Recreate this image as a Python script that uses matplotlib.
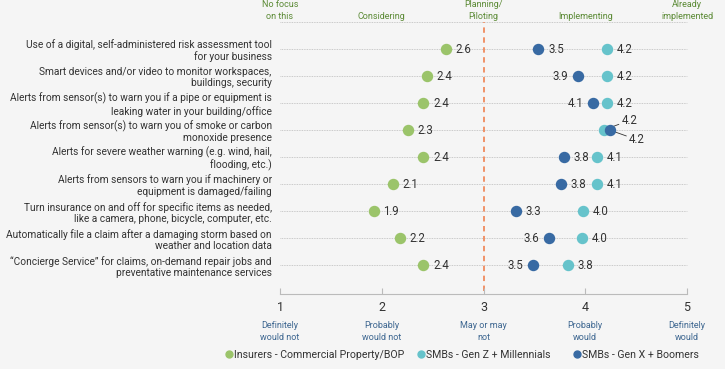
import matplotlib.pyplot as plt

plt.rcParams['font.family'] = ['Roboto', 'DejaVu Sans']

items = [
    "Use of a digital, self-administered risk assessment tool\nfor your business",
    "Smart devices and/or video to monitor workspaces,\nbuildings, security",
    "Alerts from sensor(s) to warn you if a pipe or equipment is\nleaking water in your building/office",
    "Alerts from sensor(s) to warn you of smoke or carbon\nmonoxide presence",
    "Alerts for severe weather warning (e.g. wind, hail,\nflooding, etc.)",
    "Alerts from sensors to warn you if machinery or\nequipment is damaged/failing",
    "Turn insurance on and off for specific items as needed,\nlike a camera, phone, bicycle, computer, etc.",
    "Automatically file a claim after a damaging storm based on\nweather and location data",
    "\u201cConcierge Service\u201d for claims, on-demand repair jobs and\npreventative maintenance services",
]
insurers = [2.63, 2.44, 2.41, 2.26, 2.41, 2.11, 1.92, 2.18, 2.41]
genz = [4.21, 4.21, 4.21, 4.18, 4.12, 4.12, 3.98, 3.97, 3.83]
genx = [3.54, 3.93, 4.08, 4.24, 3.79, 3.76, 3.32, 3.64, 3.49]
# which side the Gen X label goes: 1 right, -1 left, 0 leader
genx_side = [1, -1, -1, 0, 1, 1, 1, -1, -1]

scale = [1, 2, 3, 4, 5]
bottom_labels = ["Definitely\nwould not", "Probably\nwould not", "May or may\nnot",
                 "Probably\nwould", "Definitely\nwould"]
top_labels = ["No focus\non this", "Considering", "Planning/\nPiloting",
              "Implementing", "Already\nimplemented"]

green = '#9bc46a'
light = '#66c3cb'
dark = '#386aa3'
bg = '#f5f5f5'
txt = '#333333'

fig = plt.figure(figsize=(7.25, 3.69), dpi=100, facecolor=bg)
ax = fig.add_axes([280 / 725, 1 - 294 / 369, 407 / 725, 272 / 369], facecolor=bg)
rows = list(range(len(items)))

ax.set_xlim(1, 5)
ax.set_ylim(9.07, -1)
ax.set_yticks(rows)
ax.set_yticklabels(items, fontsize=7.3, color=txt, linespacing=1.15)
ax.tick_params(axis='y', length=0, pad=6)
ax.set_xticks(scale)
ax.set_xticklabels([str(s) for s in scale], fontsize=9, color=txt)
ax.tick_params(axis='x', direction='in', length=4, color='#bbbbbb', pad=5)
for s in ['top', 'left', 'right']:
    ax.spines[s].set_visible(False)
ax.spines['bottom'].set_color('#bbbbbb')

for r in [-1] + rows:
    ax.plot([1, 5], [r, r], color='#bbbbbb', lw=0.6, ls=(0, (1, 1)), zorder=1, clip_on=False)
ax.axvline(3, color='#f08a5d', lw=1.3, ls=(0, (3, 2.5)), ymin=0.01, ymax=1, zorder=1)

ax.scatter(insurers, rows, s=52, color=green, zorder=3, clip_on=False)
ax.scatter(genz, rows, s=52, color=light, zorder=3, clip_on=False)
ax.scatter(genx, rows, s=52, color=dark, zorder=4, clip_on=False)

lab = dict(fontsize=8.3, color=txt, va='center', textcoords='offset points')
for r in rows:
    ax.annotate(f"{insurers[r]:.1f}", (insurers[r], r), xytext=(7, 0), ha='left', **lab)
    if genx_side[r] == 0:
        ax.annotate(f"{genz[r]:.1f}", (genz[r], r), xytext=(13, 7), ha='left',
                    arrowprops=dict(arrowstyle='-', color=txt, lw=0.6, shrinkA=0, shrinkB=3), **lab)
        ax.annotate(f"{genx[r]:.1f}", (genx[r], r), xytext=(14, -7), ha='left',
                    arrowprops=dict(arrowstyle='-', color=txt, lw=0.6, shrinkA=0, shrinkB=3), **lab)
        continue
    ax.annotate(f"{genz[r]:.1f}", (genz[r], r), xytext=(7, 0), ha='left', **lab)
    if genx_side[r] > 0:
        ax.annotate(f"{genx[r]:.1f}", (genx[r], r), xytext=(7, 0), ha='left', **lab)
    else:
        ax.annotate(f"{genx[r]:.1f}", (genx[r], r), xytext=(-7, 0), ha='right', **lab)

xt = ax.get_xaxis_transform()
for s, b, t in zip(scale, bottom_labels, top_labels):
    ax.text(s, -0.1, b, transform=xt, ha='center', va='top', fontsize=6.5,
            color='#3d6690', linespacing=1.35)
    ax.text(s, 1.005, t, transform=xt, ha='center', va='bottom', fontsize=6.5,
            color='#5b8a35', linespacing=1.35)

# legend: one small legend per series, placed like the original
series = [(green, 'Insurers - Commercial Property/BOP', 225),
          (light, 'SMBs - Gen Z + Millennials', 417),
          (dark, 'SMBs - Gen X + Boomers', 573)]
for color, name, px in series:
    h = plt.Line2D([], [], ls='', marker='o', ms=5, color=color, label=name)
    leg = fig.legend(handles=[h], loc='center left', bbox_to_anchor=(px / 725, 0.038),
                     frameon=False, fontsize=7.6, handletextpad=0.05, handlelength=0.8,
                     borderpad=0, borderaxespad=0)
    for t in leg.get_texts():
        t.set_color(txt)

fig.savefig('out.png', dpi=100, facecolor=bg)
